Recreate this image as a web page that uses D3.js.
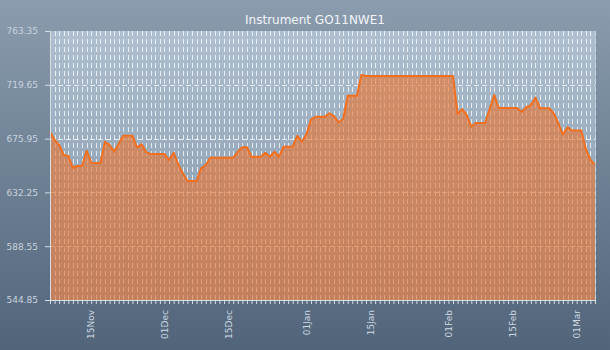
<!DOCTYPE html>
<html>
<head>
<meta charset="utf-8">
<script src="https://cdn.jsdelivr.net/npm/d3@7"></script>
<style>
  html, body { margin: 0; padding: 0; background: #5a6d81; }
  svg { display: block; }
  text { font-family: "DejaVu Sans", Verdana, sans-serif; }
</style>
</head>
<body>
<svg id="chart" width="610" height="350"></svg>
<script>
// Daily closing levels, one per calendar day starting at firstDay
const firstDay = "2010-11-06";
const closeValues = [
  681.6, 674.8, 670.8, 662.6, 661.8, 652.3, 653.7, 653.7, 666.1, 656.4,
  656.1, 656.1, 673.4, 670.8, 665.3, 671.8, 678.3, 678.3, 678.3, 668.9,
  671.3, 664.8, 663.5, 663.4, 663.4, 663.4, 658.6, 664.5, 655.0, 647.8,
  641.5, 641.5, 641.5, 651.8, 654.5, 660.4, 660.4, 660.4, 660.4, 660.4,
  660.4, 665.3, 668.9, 668.9, 661.2, 661.2, 661.2, 664.5, 661.2, 665.3,
  661.2, 669.4, 669.4, 669.4, 678.1, 673.4, 679.7, 691.6, 693.7, 693.7,
  693.7, 696.5, 694.3, 689.2, 691.9, 710.8, 710.8, 710.8, 727.6, 726.8,
  726.8, 726.8, 726.8, 726.8, 726.8, 726.8, 726.8, 726.8, 726.8, 726.8,
  726.8, 726.8, 726.8, 726.8, 726.8, 726.8, 726.8, 726.8, 726.8, 696.0,
  699.8, 695.1, 685.6, 688.6, 688.6, 688.6, 700.0, 711.4, 700.8, 700.8,
  700.8, 700.8, 700.8, 697.8, 701.4, 703.2, 709.2, 700.6, 700.6, 700.6,
  696.5, 688.4, 679.3, 685.1, 682.5, 682.5, 682.5, 667.5, 658.6, 654.8
];

// Axis labels
const xTickDates = ["2010-11-15", "2010-12-01", "2010-12-15", "2011-01-01",
                    "2011-01-15", "2011-02-01", "2011-02-15", "2011-03-01"];
const yTickValues = [544.85, 588.55, 632.25, 675.95, 719.65, 763.35];
const chartTitle = "Instrument GO11NWE1";

const W = 610, H = 350;
const margin = { top: 31, right: 15, bottom: 50, left: 50 };
const parse = d3.utcParse("%Y-%m-%d");
const start = parse(firstDay);
const series = closeValues.map((v, i) => ({ date: d3.utcDay.offset(start, i), value: v }));
const allDays = series.map(d => d.date);

const x = d3.scaleUtc()
  .domain([series[0].date, series[series.length - 1].date])
  .range([margin.left, W - margin.right]);
const y = d3.scaleLinear()
  .domain([yTickValues[0], yTickValues[yTickValues.length - 1]])
  .range([H - margin.bottom, margin.top]);

const svg = d3.select("#chart");
const defs = svg.append("defs");

const bgGrad = defs.append("linearGradient").attr("id", "bgGrad")
  .attr("x1", 0).attr("y1", 0).attr("x2", 0).attr("y2", 1);
bgGrad.append("stop").attr("offset", "0%").attr("stop-color", "#8b9cae");
bgGrad.append("stop").attr("offset", "100%").attr("stop-color", "#51647a");

const plotGrad = defs.append("linearGradient").attr("id", "plotGrad")
  .attr("x1", 0).attr("y1", 0).attr("x2", 0).attr("y2", 1);
plotGrad.append("stop").attr("offset", "0%").attr("stop-color", "#aec0cf");
plotGrad.append("stop").attr("offset", "100%").attr("stop-color", "#8093a8");

svg.append("rect").attr("width", W).attr("height", H).attr("fill", "url(#bgGrad)");

const [x0, x1] = x.range();
const [yb, yt] = y.range();

svg.append("rect")
  .attr("x", x0).attr("y", yt)
  .attr("width", x1 - x0).attr("height", yb - yt)
  .attr("fill", "url(#plotGrad)");

// Grid: a dashed vertical line for every day, dashed horizontals at the value ticks
const grid = svg.append("g").attr("stroke", "#ffffff").attr("stroke-opacity", 0.75)
  .attr("stroke-width", 1).attr("stroke-dasharray", "5,3");
grid.selectAll("line.v").data(allDays.slice(1)).join("line")
  .attr("class", "v")
  .attr("x1", d => Math.round(x(d)) + 0.5).attr("x2", d => Math.round(x(d)) + 0.5)
  .attr("y1", yt).attr("y2", yb);
grid.selectAll("line.h").data(yTickValues.slice(1, -1)).join("line")
  .attr("class", "h")
  .attr("x1", x0).attr("x2", x1)
  .attr("y1", d => Math.round(y(d)) + 0.5).attr("y2", d => Math.round(y(d)) + 0.5);

// Area and line
const area = d3.area().x(d => x(d.date)).y0(yb).y1(d => y(d.value));
const line = d3.line().x(d => x(d.date)).y(d => y(d.value));

svg.append("path").datum(series)
  .attr("d", area)
  .attr("fill", "rgb(232,118,52)").attr("fill-opacity", 0.64);
svg.append("path").datum(series)
  .attr("d", line)
  .attr("fill", "none").attr("stroke", "#f36f1e").attr("stroke-width", 2)
  .attr("stroke-linejoin", "round");

// Y axis
const yAxis = svg.append("g").attr("transform", `translate(${x0},0)`)
  .call(d3.axisLeft(y).tickValues(yTickValues).tickFormat(d3.format(".2f"))
    .tickSize(5).tickPadding(7));
yAxis.select(".domain").attr("stroke", "#d5dde5");
yAxis.selectAll(".tick line").attr("stroke", "#d5dde5");
yAxis.selectAll(".tick text").attr("fill", "#c9d3dd").attr("font-size", 9)
  .attr("font-family", "DejaVu Sans, sans-serif");

// X axis: daily tick marks, labels on selected dates
const xAxis = svg.append("g").attr("transform", `translate(0,${yb})`)
  .call(d3.axisBottom(x).tickValues(allDays).tickSize(4).tickFormat(""));
xAxis.select(".domain").attr("stroke", "#d5dde5");
xAxis.selectAll(".tick line").attr("stroke", "#d5dde5");

const fmt = d3.utcFormat("%d%b");
svg.append("g").selectAll("text").data(xTickDates.map(parse)).join("text")
  .attr("transform", d => `translate(${x(d)},${yb + 10}) rotate(-90)`)
  .attr("text-anchor", "end").attr("dy", "0.35em")
  .attr("fill", "#ced8e1").attr("font-size", 9)
  .text(d => fmt(d));

// Right border of the plot
svg.append("line").attr("x1", x1 + 0.5).attr("x2", x1 + 0.5).attr("y1", yt).attr("y2", yb)
  .attr("stroke", "#c8d2dc").attr("stroke-opacity", 0.7);

// Title
svg.append("text").attr("x", 315).attr("y", 24)
  .attr("text-anchor", "middle").attr("fill", "#f2f5f8").attr("font-size", 12)
  .text(chartTitle);
</script>
</body>
</html>
